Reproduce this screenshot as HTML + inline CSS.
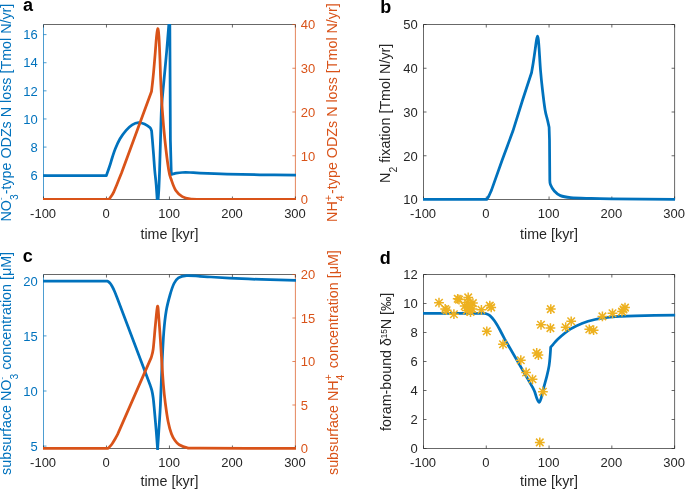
<!DOCTYPE html><html><head><meta charset="utf-8"><style>html,body{margin:0;padding:0;background:#fff;}svg{display:block;will-change:transform;}</style></head><body>
<svg width="685" height="489" viewBox="0 0 685 489" font-family="Liberation Sans, sans-serif">
<rect width="685" height="489" fill="#fff"/>
<defs><clipPath id="ca"><rect x="43.0" y="24.0" width="252.89999999999998" height="176.0"/></clipPath><clipPath id="cb"><rect x="423.0" y="24.0" width="252.10000000000002" height="177.0"/></clipPath><clipPath id="cc"><rect x="43.0" y="274.0" width="252.89999999999998" height="176.0"/></clipPath><clipPath id="cd"><rect x="423.0" y="274.0" width="252.10000000000002" height="175.3"/></clipPath></defs>
<line x1="43.50" y1="24.50" x2="295.40" y2="24.50" stroke="#262626" stroke-width="0.7"/>
<line x1="43.50" y1="199.50" x2="295.40" y2="199.50" stroke="#262626" stroke-width="0.7"/>
<line x1="43.50" y1="24.50" x2="43.50" y2="199.50" stroke="#0072BD" stroke-width="0.7"/>
<line x1="295.40" y1="24.50" x2="295.40" y2="199.50" stroke="#D95319" stroke-width="0.7"/>
<line x1="43.50" y1="199.50" x2="43.50" y2="196.50" stroke="#262626" stroke-width="0.7"/>
<line x1="43.50" y1="24.50" x2="43.50" y2="27.50" stroke="#262626" stroke-width="0.7"/>
<line x1="106.47" y1="199.50" x2="106.47" y2="196.50" stroke="#262626" stroke-width="0.7"/>
<line x1="106.47" y1="24.50" x2="106.47" y2="27.50" stroke="#262626" stroke-width="0.7"/>
<line x1="169.45" y1="199.50" x2="169.45" y2="196.50" stroke="#262626" stroke-width="0.7"/>
<line x1="169.45" y1="24.50" x2="169.45" y2="27.50" stroke="#262626" stroke-width="0.7"/>
<line x1="232.42" y1="199.50" x2="232.42" y2="196.50" stroke="#262626" stroke-width="0.7"/>
<line x1="232.42" y1="24.50" x2="232.42" y2="27.50" stroke="#262626" stroke-width="0.7"/>
<line x1="295.40" y1="199.50" x2="295.40" y2="196.50" stroke="#262626" stroke-width="0.7"/>
<line x1="295.40" y1="24.50" x2="295.40" y2="27.50" stroke="#262626" stroke-width="0.7"/>
<line x1="43.50" y1="175.20" x2="46.50" y2="175.20" stroke="#0072BD" stroke-width="0.7"/>
<line x1="43.50" y1="147.08" x2="46.50" y2="147.08" stroke="#0072BD" stroke-width="0.7"/>
<line x1="43.50" y1="118.96" x2="46.50" y2="118.96" stroke="#0072BD" stroke-width="0.7"/>
<line x1="43.50" y1="90.84" x2="46.50" y2="90.84" stroke="#0072BD" stroke-width="0.7"/>
<line x1="43.50" y1="62.72" x2="46.50" y2="62.72" stroke="#0072BD" stroke-width="0.7"/>
<line x1="43.50" y1="34.60" x2="46.50" y2="34.60" stroke="#0072BD" stroke-width="0.7"/>
<line x1="295.40" y1="199.50" x2="292.40" y2="199.50" stroke="#D95319" stroke-width="0.7"/>
<line x1="295.40" y1="155.75" x2="292.40" y2="155.75" stroke="#D95319" stroke-width="0.7"/>
<line x1="295.40" y1="112.00" x2="292.40" y2="112.00" stroke="#D95319" stroke-width="0.7"/>
<line x1="295.40" y1="68.25" x2="292.40" y2="68.25" stroke="#D95319" stroke-width="0.7"/>
<line x1="295.40" y1="24.50" x2="292.40" y2="24.50" stroke="#D95319" stroke-width="0.7"/>
<line x1="423.50" y1="24.50" x2="674.60" y2="24.50" stroke="#262626" stroke-width="0.7"/>
<line x1="423.50" y1="199.50" x2="674.60" y2="199.50" stroke="#262626" stroke-width="0.7"/>
<line x1="423.50" y1="24.50" x2="423.50" y2="199.50" stroke="#262626" stroke-width="0.7"/>
<line x1="674.60" y1="24.50" x2="674.60" y2="199.50" stroke="#262626" stroke-width="0.7"/>
<line x1="423.50" y1="199.50" x2="423.50" y2="196.50" stroke="#262626" stroke-width="0.7"/>
<line x1="423.50" y1="24.50" x2="423.50" y2="27.50" stroke="#262626" stroke-width="0.7"/>
<line x1="486.27" y1="199.50" x2="486.27" y2="196.50" stroke="#262626" stroke-width="0.7"/>
<line x1="486.27" y1="24.50" x2="486.27" y2="27.50" stroke="#262626" stroke-width="0.7"/>
<line x1="549.05" y1="199.50" x2="549.05" y2="196.50" stroke="#262626" stroke-width="0.7"/>
<line x1="549.05" y1="24.50" x2="549.05" y2="27.50" stroke="#262626" stroke-width="0.7"/>
<line x1="611.83" y1="199.50" x2="611.83" y2="196.50" stroke="#262626" stroke-width="0.7"/>
<line x1="611.83" y1="24.50" x2="611.83" y2="27.50" stroke="#262626" stroke-width="0.7"/>
<line x1="674.60" y1="199.50" x2="674.60" y2="196.50" stroke="#262626" stroke-width="0.7"/>
<line x1="674.60" y1="24.50" x2="674.60" y2="27.50" stroke="#262626" stroke-width="0.7"/>
<line x1="423.50" y1="199.50" x2="426.50" y2="199.50" stroke="#262626" stroke-width="0.7"/>
<line x1="423.50" y1="155.75" x2="426.50" y2="155.75" stroke="#262626" stroke-width="0.7"/>
<line x1="423.50" y1="112.00" x2="426.50" y2="112.00" stroke="#262626" stroke-width="0.7"/>
<line x1="423.50" y1="68.25" x2="426.50" y2="68.25" stroke="#262626" stroke-width="0.7"/>
<line x1="423.50" y1="24.50" x2="426.50" y2="24.50" stroke="#262626" stroke-width="0.7"/>
<line x1="674.60" y1="199.50" x2="671.60" y2="199.50" stroke="#262626" stroke-width="0.7"/>
<line x1="674.60" y1="155.75" x2="671.60" y2="155.75" stroke="#262626" stroke-width="0.7"/>
<line x1="674.60" y1="112.00" x2="671.60" y2="112.00" stroke="#262626" stroke-width="0.7"/>
<line x1="674.60" y1="68.25" x2="671.60" y2="68.25" stroke="#262626" stroke-width="0.7"/>
<line x1="674.60" y1="24.50" x2="671.60" y2="24.50" stroke="#262626" stroke-width="0.7"/>
<line x1="43.50" y1="274.50" x2="295.40" y2="274.50" stroke="#262626" stroke-width="0.7"/>
<line x1="43.50" y1="448.50" x2="295.40" y2="448.50" stroke="#262626" stroke-width="0.7"/>
<line x1="43.50" y1="274.50" x2="43.50" y2="448.50" stroke="#0072BD" stroke-width="0.7"/>
<line x1="295.40" y1="274.50" x2="295.40" y2="448.50" stroke="#D95319" stroke-width="0.7"/>
<line x1="43.50" y1="448.50" x2="43.50" y2="445.50" stroke="#262626" stroke-width="0.7"/>
<line x1="43.50" y1="274.50" x2="43.50" y2="277.50" stroke="#262626" stroke-width="0.7"/>
<line x1="106.47" y1="448.50" x2="106.47" y2="445.50" stroke="#262626" stroke-width="0.7"/>
<line x1="106.47" y1="274.50" x2="106.47" y2="277.50" stroke="#262626" stroke-width="0.7"/>
<line x1="169.45" y1="448.50" x2="169.45" y2="445.50" stroke="#262626" stroke-width="0.7"/>
<line x1="169.45" y1="274.50" x2="169.45" y2="277.50" stroke="#262626" stroke-width="0.7"/>
<line x1="232.42" y1="448.50" x2="232.42" y2="445.50" stroke="#262626" stroke-width="0.7"/>
<line x1="232.42" y1="274.50" x2="232.42" y2="277.50" stroke="#262626" stroke-width="0.7"/>
<line x1="295.40" y1="448.50" x2="295.40" y2="445.50" stroke="#262626" stroke-width="0.7"/>
<line x1="295.40" y1="274.50" x2="295.40" y2="277.50" stroke="#262626" stroke-width="0.7"/>
<line x1="43.50" y1="446.10" x2="46.50" y2="446.10" stroke="#0072BD" stroke-width="0.7"/>
<line x1="43.50" y1="391.00" x2="46.50" y2="391.00" stroke="#0072BD" stroke-width="0.7"/>
<line x1="43.50" y1="335.90" x2="46.50" y2="335.90" stroke="#0072BD" stroke-width="0.7"/>
<line x1="43.50" y1="280.80" x2="46.50" y2="280.80" stroke="#0072BD" stroke-width="0.7"/>
<line x1="295.40" y1="448.50" x2="292.40" y2="448.50" stroke="#D95319" stroke-width="0.7"/>
<line x1="295.40" y1="405.00" x2="292.40" y2="405.00" stroke="#D95319" stroke-width="0.7"/>
<line x1="295.40" y1="361.50" x2="292.40" y2="361.50" stroke="#D95319" stroke-width="0.7"/>
<line x1="295.40" y1="318.00" x2="292.40" y2="318.00" stroke="#D95319" stroke-width="0.7"/>
<line x1="295.40" y1="274.50" x2="292.40" y2="274.50" stroke="#D95319" stroke-width="0.7"/>
<line x1="423.50" y1="274.50" x2="674.60" y2="274.50" stroke="#262626" stroke-width="0.7"/>
<line x1="423.50" y1="448.50" x2="674.60" y2="448.50" stroke="#262626" stroke-width="0.7"/>
<line x1="423.50" y1="274.50" x2="423.50" y2="448.50" stroke="#262626" stroke-width="0.7"/>
<line x1="674.60" y1="274.50" x2="674.60" y2="448.50" stroke="#262626" stroke-width="0.7"/>
<line x1="423.50" y1="448.50" x2="423.50" y2="445.50" stroke="#262626" stroke-width="0.7"/>
<line x1="423.50" y1="274.50" x2="423.50" y2="277.50" stroke="#262626" stroke-width="0.7"/>
<line x1="486.27" y1="448.50" x2="486.27" y2="445.50" stroke="#262626" stroke-width="0.7"/>
<line x1="486.27" y1="274.50" x2="486.27" y2="277.50" stroke="#262626" stroke-width="0.7"/>
<line x1="549.05" y1="448.50" x2="549.05" y2="445.50" stroke="#262626" stroke-width="0.7"/>
<line x1="549.05" y1="274.50" x2="549.05" y2="277.50" stroke="#262626" stroke-width="0.7"/>
<line x1="611.83" y1="448.50" x2="611.83" y2="445.50" stroke="#262626" stroke-width="0.7"/>
<line x1="611.83" y1="274.50" x2="611.83" y2="277.50" stroke="#262626" stroke-width="0.7"/>
<line x1="674.60" y1="448.50" x2="674.60" y2="445.50" stroke="#262626" stroke-width="0.7"/>
<line x1="674.60" y1="274.50" x2="674.60" y2="277.50" stroke="#262626" stroke-width="0.7"/>
<line x1="423.50" y1="448.50" x2="426.50" y2="448.50" stroke="#262626" stroke-width="0.7"/>
<line x1="423.50" y1="419.50" x2="426.50" y2="419.50" stroke="#262626" stroke-width="0.7"/>
<line x1="423.50" y1="390.50" x2="426.50" y2="390.50" stroke="#262626" stroke-width="0.7"/>
<line x1="423.50" y1="361.50" x2="426.50" y2="361.50" stroke="#262626" stroke-width="0.7"/>
<line x1="423.50" y1="332.50" x2="426.50" y2="332.50" stroke="#262626" stroke-width="0.7"/>
<line x1="423.50" y1="303.50" x2="426.50" y2="303.50" stroke="#262626" stroke-width="0.7"/>
<line x1="423.50" y1="274.50" x2="426.50" y2="274.50" stroke="#262626" stroke-width="0.7"/>
<line x1="674.60" y1="448.50" x2="671.60" y2="448.50" stroke="#262626" stroke-width="0.7"/>
<line x1="674.60" y1="419.50" x2="671.60" y2="419.50" stroke="#262626" stroke-width="0.7"/>
<line x1="674.60" y1="390.50" x2="671.60" y2="390.50" stroke="#262626" stroke-width="0.7"/>
<line x1="674.60" y1="361.50" x2="671.60" y2="361.50" stroke="#262626" stroke-width="0.7"/>
<line x1="674.60" y1="332.50" x2="671.60" y2="332.50" stroke="#262626" stroke-width="0.7"/>
<line x1="674.60" y1="303.50" x2="671.60" y2="303.50" stroke="#262626" stroke-width="0.7"/>
<line x1="674.60" y1="274.50" x2="671.60" y2="274.50" stroke="#262626" stroke-width="0.7"/>
<path d="M42.50,175.50 L106.40,175.50 C106.93,173.97 108.62,169.30 109.60,166.30 C110.58,163.30 111.35,160.42 112.30,157.50 C113.25,154.58 114.02,151.92 115.30,148.80 C116.58,145.68 118.20,141.88 120.00,138.80 C121.80,135.72 124.07,132.63 126.10,130.30 C128.13,127.97 130.15,126.08 132.20,124.80 C134.25,123.52 136.35,122.73 138.40,122.60 C140.45,122.47 142.58,123.17 144.50,124.00 C146.42,124.83 148.72,126.47 149.90,127.60 C151.08,128.73 151.32,130.27 151.60,130.80 C151.73,132.33 152.07,135.97 152.40,140.00 C152.73,144.03 153.22,150.00 153.60,155.00 C153.98,160.00 154.27,165.00 154.70,170.00 C155.13,175.00 155.72,179.00 156.20,185.00 C156.68,191.00 157.37,202.50 157.60,206.00 C157.80,203.33 158.47,196.00 158.80,190.00 C159.13,184.00 159.32,178.33 159.60,170.00 C159.88,161.67 160.20,150.00 160.50,140.00 C160.80,130.00 161.05,117.50 161.40,110.00 C161.75,102.50 162.17,100.00 162.60,95.00 C163.03,90.00 163.33,87.17 164.00,80.00 C164.67,72.83 165.73,62.00 166.60,52.00 C167.47,42.00 168.77,25.33 169.20,20.00 L169.80,20.00 L170.40,140.00 L171.30,174.50 C171.58,174.42 172.17,174.22 173.00,174.00 C173.83,173.78 174.78,173.45 176.30,173.20 C177.82,172.95 179.82,172.62 182.10,172.50 C184.38,172.38 187.02,172.40 190.00,172.50 C192.98,172.60 193.83,172.83 200.00,173.10 C206.17,173.37 217.00,173.82 227.00,174.10 C237.00,174.38 248.50,174.62 260.00,174.80 C271.50,174.98 290.00,175.13 296.00,175.20" fill="none" stroke="#0072BD" stroke-width="2.75" stroke-linejoin="round" clip-path="url(#ca)"/>
<path d="M42.50,199.40 L109.00,199.40 C109.37,198.88 110.48,197.38 111.20,196.30 C111.92,195.22 112.37,194.83 113.30,192.90 C114.23,190.97 115.43,188.02 116.80,184.70 C118.17,181.38 120.72,174.95 121.50,173.00 L151.50,91.50 C151.68,89.92 152.25,85.25 152.60,82.00 C152.95,78.75 153.15,77.00 153.60,72.00 C154.05,67.00 154.82,57.83 155.30,52.00 C155.78,46.17 156.10,40.90 156.50,37.00 C156.90,33.10 157.30,28.77 157.70,28.60 C158.10,28.43 158.52,30.77 158.90,36.00 C159.28,41.23 159.70,52.67 160.00,60.00 C160.30,67.33 160.32,71.67 160.70,80.00 C161.08,88.33 161.60,100.00 162.30,110.00 C163.00,120.00 163.83,130.00 164.90,140.00 C165.97,150.00 167.62,163.33 168.70,170.00 C169.78,176.67 170.22,176.58 171.40,180.00 C172.58,183.42 173.98,187.73 175.80,190.50 C177.62,193.27 179.93,195.20 182.30,196.60 C184.67,198.00 186.22,198.45 190.00,198.90 C193.78,199.35 187.33,199.22 205.00,199.30 C222.67,199.38 280.83,199.38 296.00,199.40" fill="none" stroke="#D95319" stroke-width="2.75" stroke-linejoin="round" clip-path="url(#ca)"/>
<path d="M422.50,199.40 L486.70,199.40 C487.02,198.92 487.80,198.05 488.60,196.50 C489.40,194.95 491.02,191.17 491.50,190.10 L502.20,160.00 L512.90,131.10 L522.60,100.00 L531.60,72.50 C531.87,70.92 532.62,66.75 533.20,63.00 C533.78,59.25 534.55,53.83 535.10,50.00 C535.65,46.17 536.10,42.30 536.50,40.00 C536.90,37.70 537.18,36.20 537.50,36.20 C537.82,36.20 538.12,37.70 538.40,40.00 C538.68,42.30 538.85,45.00 539.20,50.00 C539.55,55.00 539.95,63.33 540.50,70.00 C541.05,76.67 541.73,83.33 542.50,90.00 C543.27,96.67 544.30,105.13 545.10,110.00 C545.90,114.87 546.63,116.33 547.30,119.20 C547.97,122.07 548.80,125.87 549.10,127.20 L549.50,140.00 L549.80,180.00 C549.90,180.75 549.65,182.67 550.40,184.50 C551.15,186.33 552.63,189.15 554.30,191.00 C555.97,192.85 557.67,194.50 560.40,195.60 C563.13,196.70 565.77,197.13 570.70,197.60 C575.63,198.07 583.18,198.20 590.00,198.40 C596.82,198.60 597.27,198.63 611.60,198.80 C625.93,198.97 665.27,199.30 676.00,199.40" fill="none" stroke="#0072BD" stroke-width="2.75" stroke-linejoin="round" clip-path="url(#cb)"/>
<path d="M42.50,281.00 L107.50,281.00 C107.92,281.37 109.22,282.28 110.00,283.20 C110.78,284.12 111.45,285.17 112.20,286.50 C112.95,287.83 113.67,289.30 114.50,291.20 C115.33,293.10 116.75,296.78 117.20,297.90 L150.30,385.60 C150.57,386.43 151.42,388.53 151.90,390.60 C152.38,392.67 152.78,394.77 153.20,398.00 C153.62,401.23 153.88,404.33 154.40,410.00 C154.92,415.67 155.77,425.42 156.30,432.00 C156.83,438.58 157.38,446.58 157.60,449.50 C157.87,445.42 158.73,432.42 159.20,425.00 C159.67,417.58 159.93,415.00 160.40,405.00 C160.87,395.00 161.43,377.17 162.00,365.00 C162.57,352.83 163.10,341.00 163.80,332.00 C164.50,323.00 165.17,317.17 166.20,311.00 C167.23,304.83 168.70,299.58 170.00,295.00 C171.30,290.42 172.60,286.37 174.00,283.50 C175.40,280.63 176.30,279.12 178.40,277.80 C180.50,276.48 183.00,275.85 186.60,275.60 C190.20,275.35 195.93,276.07 200.00,276.30 C204.07,276.53 204.03,276.60 211.00,277.00 C217.97,277.40 231.97,278.25 241.80,278.70 C251.63,279.15 260.97,279.43 270.00,279.70 C279.03,279.97 291.67,280.20 296.00,280.30" fill="none" stroke="#0072BD" stroke-width="2.75" stroke-linejoin="round" clip-path="url(#cc)"/>
<path d="M42.50,448.30 L108.10,448.30 C108.45,447.95 109.47,447.05 110.20,446.20 C110.93,445.35 111.62,444.52 112.50,443.20 C113.38,441.88 114.65,439.77 115.50,438.30 C116.35,436.83 117.25,435.05 117.60,434.40 L151.20,357.60 C151.53,356.17 152.50,354.43 153.20,349.00 C153.90,343.57 154.68,332.12 155.40,325.00 C156.12,317.88 156.93,307.55 157.50,306.30 C158.07,305.05 158.32,311.88 158.80,317.50 C159.28,323.12 159.90,332.58 160.40,340.00 C160.90,347.42 161.30,354.50 161.80,362.00 C162.30,369.50 162.82,378.17 163.40,385.00 C163.98,391.83 164.50,396.83 165.30,403.00 C166.10,409.17 167.17,416.83 168.20,422.00 C169.23,427.17 170.37,430.92 171.50,434.00 C172.63,437.08 173.72,438.70 175.00,440.50 C176.28,442.30 177.12,443.58 179.20,444.80 C181.28,446.02 184.03,447.23 187.50,447.80 C190.97,448.37 181.92,448.12 200.00,448.20 C218.08,448.28 280.00,448.28 296.00,448.30" fill="none" stroke="#D95319" stroke-width="2.75" stroke-linejoin="round" clip-path="url(#cc)"/>
<path d="M422.50,313.40 L485.20,313.40 C485.98,313.77 488.30,314.28 489.90,315.60 C491.50,316.92 493.17,318.98 494.80,321.30 C496.43,323.62 498.07,326.55 499.70,329.50 C501.33,332.45 503.78,337.42 504.60,339.00 L532.20,386.60 C532.60,387.43 533.82,389.62 534.60,391.60 C535.38,393.58 536.13,396.70 536.90,398.50 C537.67,400.30 538.48,402.48 539.20,402.40 C539.92,402.32 540.57,400.05 541.20,398.00 C541.83,395.95 542.07,393.72 543.00,390.10 C543.93,386.48 545.78,380.38 546.80,376.30 C547.82,372.22 548.53,369.17 549.10,365.60 C549.67,362.03 549.93,357.97 550.20,354.90 C550.47,351.83 550.62,348.48 550.70,347.20 C551.08,346.77 551.78,345.97 553.00,344.60 C554.22,343.23 555.12,341.57 558.00,339.00 C560.88,336.43 566.22,331.83 570.30,329.20 C574.38,326.57 578.38,324.82 582.50,323.20 C586.62,321.58 590.83,320.47 595.00,319.50 C599.17,318.53 603.33,317.92 607.50,317.40 C611.67,316.88 615.42,316.67 620.00,316.40 C624.58,316.13 625.67,316.02 635.00,315.80 C644.33,315.58 669.17,315.22 676.00,315.10" fill="none" stroke="#0072BD" stroke-width="2.75" stroke-linejoin="round" clip-path="url(#cd)"/>
<path d="M434.10,302.70H443.90M439.00,297.80V307.60M435.25,298.95L442.75,306.45M435.25,306.45L442.75,298.95" stroke="#EDB120" stroke-width="1.5" fill="none"/>
<path d="M440.30,309.00H450.10M445.20,304.10V313.90M441.45,305.25L448.95,312.75M441.45,312.75L448.95,305.25" stroke="#EDB120" stroke-width="1.5" fill="none"/>
<path d="M441.70,310.20H451.50M446.60,305.30V315.10M442.85,306.45L450.35,313.95M442.85,313.95L450.35,306.45" stroke="#EDB120" stroke-width="1.5" fill="none"/>
<path d="M449.00,314.20H458.80M453.90,309.30V319.10M450.15,310.45L457.65,317.95M450.15,317.95L457.65,310.45" stroke="#EDB120" stroke-width="1.5" fill="none"/>
<path d="M452.80,298.80H462.60M457.70,293.90V303.70M453.95,295.05L461.45,302.55M453.95,302.55L461.45,295.05" stroke="#EDB120" stroke-width="1.5" fill="none"/>
<path d="M463.30,297.40H473.10M468.20,292.50V302.30M464.45,293.65L471.95,301.15M464.45,301.15L471.95,293.65" stroke="#EDB120" stroke-width="1.5" fill="none"/>
<path d="M468.00,303.10H477.80M472.90,298.20V308.00M469.15,299.35L476.65,306.85M469.15,306.85L476.65,299.35" stroke="#EDB120" stroke-width="1.5" fill="none"/>
<path d="M459.80,306.10H469.60M464.70,301.20V311.00M460.95,302.35L468.45,309.85M460.95,309.85L468.45,302.35" stroke="#EDB120" stroke-width="1.5" fill="none"/>
<path d="M465.60,312.00H475.40M470.50,307.10V316.90M466.75,308.25L474.25,315.75M466.75,315.75L474.25,308.25" stroke="#EDB120" stroke-width="1.5" fill="none"/>
<path d="M462.60,302.50H472.40M467.50,297.60V307.40M463.75,298.75L471.25,306.25M463.75,306.25L471.25,298.75" stroke="#EDB120" stroke-width="1.5" fill="none"/>
<path d="M463.60,308.00H473.40M468.50,303.10V312.90M464.75,304.25L472.25,311.75M464.75,311.75L472.25,304.25" stroke="#EDB120" stroke-width="1.5" fill="none"/>
<path d="M467.60,309.00H477.40M472.50,304.10V313.90M468.75,305.25L476.25,312.75M468.75,312.75L476.25,305.25" stroke="#EDB120" stroke-width="1.5" fill="none"/>
<path d="M454.10,299.60H463.90M459.00,294.70V304.50M455.25,295.85L462.75,303.35M455.25,303.35L462.75,295.85" stroke="#EDB120" stroke-width="1.5" fill="none"/>
<path d="M465.30,305.50H475.10M470.20,300.60V310.40M466.45,301.75L473.95,309.25M466.45,309.25L473.95,301.75" stroke="#EDB120" stroke-width="1.5" fill="none"/>
<path d="M461.90,310.50H471.70M466.80,305.60V315.40M463.05,306.75L470.55,314.25M463.05,314.25L470.55,306.75" stroke="#EDB120" stroke-width="1.5" fill="none"/>
<path d="M476.50,309.80H486.30M481.40,304.90V314.70M477.65,306.05L485.15,313.55M477.65,313.55L485.15,306.05" stroke="#EDB120" stroke-width="1.5" fill="none"/>
<path d="M484.90,305.60H494.70M489.80,300.70V310.50M486.05,301.85L493.55,309.35M486.05,309.35L493.55,301.85" stroke="#EDB120" stroke-width="1.5" fill="none"/>
<path d="M486.30,307.40H496.10M491.20,302.50V312.30M487.45,303.65L494.95,311.15M487.45,311.15L494.95,303.65" stroke="#EDB120" stroke-width="1.5" fill="none"/>
<path d="M481.90,331.30H491.70M486.80,326.40V336.20M483.05,327.55L490.55,335.05M483.05,335.05L490.55,327.55" stroke="#EDB120" stroke-width="1.5" fill="none"/>
<path d="M498.10,344.30H507.90M503.00,339.40V349.20M499.25,340.55L506.75,348.05M499.25,348.05L506.75,340.55" stroke="#EDB120" stroke-width="1.5" fill="none"/>
<path d="M515.90,360.20H525.70M520.80,355.30V365.10M517.05,356.45L524.55,363.95M517.05,363.95L524.55,356.45" stroke="#EDB120" stroke-width="1.5" fill="none"/>
<path d="M521.20,372.50H531.00M526.10,367.60V377.40M522.35,368.75L529.85,376.25M522.35,376.25L529.85,368.75" stroke="#EDB120" stroke-width="1.5" fill="none"/>
<path d="M527.60,379.30H537.40M532.50,374.40V384.20M528.75,375.55L536.25,383.05M528.75,383.05L536.25,375.55" stroke="#EDB120" stroke-width="1.5" fill="none"/>
<path d="M531.80,352.90H541.60M536.70,348.00V357.80M532.95,349.15L540.45,356.65M532.95,356.65L540.45,349.15" stroke="#EDB120" stroke-width="1.5" fill="none"/>
<path d="M533.50,355.10H543.30M538.40,350.20V360.00M534.65,351.35L542.15,358.85M534.65,358.85L542.15,351.35" stroke="#EDB120" stroke-width="1.5" fill="none"/>
<path d="M538.00,391.70H547.80M542.90,386.80V396.60M539.15,387.95L546.65,395.45M539.15,395.45L546.65,387.95" stroke="#EDB120" stroke-width="1.5" fill="none"/>
<path d="M534.90,442.40H544.70M539.80,437.50V447.30M536.05,438.65L543.55,446.15M536.05,446.15L543.55,438.65" stroke="#EDB120" stroke-width="1.5" fill="none"/>
<path d="M545.90,309.10H555.70M550.80,304.20V314.00M547.05,305.35L554.55,312.85M547.05,312.85L554.55,305.35" stroke="#EDB120" stroke-width="1.5" fill="none"/>
<path d="M536.10,324.80H545.90M541.00,319.90V329.70M537.25,321.05L544.75,328.55M537.25,328.55L544.75,321.05" stroke="#EDB120" stroke-width="1.5" fill="none"/>
<path d="M545.50,328.10H555.30M550.40,323.20V333.00M546.65,324.35L554.15,331.85M546.65,331.85L554.15,324.35" stroke="#EDB120" stroke-width="1.5" fill="none"/>
<path d="M560.80,327.20H570.60M565.70,322.30V332.10M561.95,323.45L569.45,330.95M561.95,330.95L569.45,323.45" stroke="#EDB120" stroke-width="1.5" fill="none"/>
<path d="M566.30,321.30H576.10M571.20,316.40V326.20M567.45,317.55L574.95,325.05M567.45,325.05L574.95,317.55" stroke="#EDB120" stroke-width="1.5" fill="none"/>
<path d="M584.40,329.30H594.20M589.30,324.40V334.20M585.55,325.55L593.05,333.05M585.55,333.05L593.05,325.55" stroke="#EDB120" stroke-width="1.5" fill="none"/>
<path d="M588.70,330.20H598.50M593.60,325.30V335.10M589.85,326.45L597.35,333.95M589.85,333.95L597.35,326.45" stroke="#EDB120" stroke-width="1.5" fill="none"/>
<path d="M597.50,316.40H607.30M602.40,311.50V321.30M598.65,312.65L606.15,320.15M598.65,320.15L606.15,312.65" stroke="#EDB120" stroke-width="1.5" fill="none"/>
<path d="M607.60,313.30H617.40M612.50,308.40V318.20M608.75,309.55L616.25,317.05M608.75,317.05L616.25,309.55" stroke="#EDB120" stroke-width="1.5" fill="none"/>
<path d="M617.10,311.60H626.90M622.00,306.70V316.50M618.25,307.85L625.75,315.35M618.25,315.35L625.75,307.85" stroke="#EDB120" stroke-width="1.5" fill="none"/>
<path d="M618.60,309.50H628.40M623.50,304.60V314.40M619.75,305.75L627.25,313.25M619.75,313.25L627.25,305.75" stroke="#EDB120" stroke-width="1.5" fill="none"/>
<path d="M620.10,307.60H629.90M625.00,302.70V312.50M621.25,303.85L628.75,311.35M621.25,311.35L628.75,303.85" stroke="#EDB120" stroke-width="1.5" fill="none"/>
<text x="43.10" y="217.50" font-size="13.0" fill="#262626" text-anchor="middle">-100</text>
<text x="106.07" y="217.50" font-size="13.0" fill="#262626" text-anchor="middle">0</text>
<text x="169.05" y="217.50" font-size="13.0" fill="#262626" text-anchor="middle">100</text>
<text x="232.02" y="217.50" font-size="13.0" fill="#262626" text-anchor="middle">200</text>
<text x="295.00" y="217.50" font-size="13.0" fill="#262626" text-anchor="middle">300</text>
<text x="37.70" y="179.95" font-size="13.0" fill="#0072BD" text-anchor="end">6</text>
<text x="37.70" y="151.83" font-size="13.0" fill="#0072BD" text-anchor="end">8</text>
<text x="37.70" y="123.71" font-size="13.0" fill="#0072BD" text-anchor="end">10</text>
<text x="37.70" y="95.59" font-size="13.0" fill="#0072BD" text-anchor="end">12</text>
<text x="37.70" y="67.47" font-size="13.0" fill="#0072BD" text-anchor="end">14</text>
<text x="37.70" y="39.35" font-size="13.0" fill="#0072BD" text-anchor="end">16</text>
<text x="300.70" y="204.25" font-size="13.0" fill="#D95319" text-anchor="start">0</text>
<text x="300.70" y="160.50" font-size="13.0" fill="#D95319" text-anchor="start">10</text>
<text x="300.70" y="116.75" font-size="13.0" fill="#D95319" text-anchor="start">20</text>
<text x="300.70" y="73.00" font-size="13.0" fill="#D95319" text-anchor="start">30</text>
<text x="300.70" y="29.25" font-size="13.0" fill="#D95319" text-anchor="start">40</text>
<text x="169.45" y="239.00" font-size="14.3" fill="#262626" text-anchor="middle">time [kyr]</text>
<text x="23.00" y="11.20" font-size="18" fill="#000" text-anchor="start" font-weight="bold">a</text>
<text x="423.10" y="217.50" font-size="13.0" fill="#262626" text-anchor="middle">-100</text>
<text x="485.88" y="217.50" font-size="13.0" fill="#262626" text-anchor="middle">0</text>
<text x="548.65" y="217.50" font-size="13.0" fill="#262626" text-anchor="middle">100</text>
<text x="611.43" y="217.50" font-size="13.0" fill="#262626" text-anchor="middle">200</text>
<text x="674.20" y="217.50" font-size="13.0" fill="#262626" text-anchor="middle">300</text>
<text x="417.70" y="204.25" font-size="13.0" fill="#262626" text-anchor="end">10</text>
<text x="417.70" y="160.50" font-size="13.0" fill="#262626" text-anchor="end">20</text>
<text x="417.70" y="116.75" font-size="13.0" fill="#262626" text-anchor="end">30</text>
<text x="417.70" y="73.00" font-size="13.0" fill="#262626" text-anchor="end">40</text>
<text x="417.70" y="29.25" font-size="13.0" fill="#262626" text-anchor="end">50</text>
<text x="549.05" y="239.00" font-size="14.3" fill="#262626" text-anchor="middle">time [kyr]</text>
<text x="380.30" y="13.00" font-size="18" fill="#000" text-anchor="start" font-weight="bold">b</text>
<text x="43.10" y="466.50" font-size="13.0" fill="#262626" text-anchor="middle">-100</text>
<text x="106.07" y="466.50" font-size="13.0" fill="#262626" text-anchor="middle">0</text>
<text x="169.05" y="466.50" font-size="13.0" fill="#262626" text-anchor="middle">100</text>
<text x="232.02" y="466.50" font-size="13.0" fill="#262626" text-anchor="middle">200</text>
<text x="295.00" y="466.50" font-size="13.0" fill="#262626" text-anchor="middle">300</text>
<text x="37.70" y="450.85" font-size="13.0" fill="#0072BD" text-anchor="end">5</text>
<text x="37.70" y="395.75" font-size="13.0" fill="#0072BD" text-anchor="end">10</text>
<text x="37.70" y="340.65" font-size="13.0" fill="#0072BD" text-anchor="end">15</text>
<text x="37.70" y="285.55" font-size="13.0" fill="#0072BD" text-anchor="end">20</text>
<text x="300.70" y="453.25" font-size="13.0" fill="#D95319" text-anchor="start">0</text>
<text x="300.70" y="409.75" font-size="13.0" fill="#D95319" text-anchor="start">5</text>
<text x="300.70" y="366.25" font-size="13.0" fill="#D95319" text-anchor="start">10</text>
<text x="300.70" y="322.75" font-size="13.0" fill="#D95319" text-anchor="start">15</text>
<text x="300.70" y="279.25" font-size="13.0" fill="#D95319" text-anchor="start">20</text>
<text x="169.45" y="485.50" font-size="14.3" fill="#262626" text-anchor="middle">time [kyr]</text>
<text x="22.70" y="261.50" font-size="18" fill="#000" text-anchor="start" font-weight="bold">c</text>
<text x="423.10" y="466.50" font-size="13.0" fill="#262626" text-anchor="middle">-100</text>
<text x="485.88" y="466.50" font-size="13.0" fill="#262626" text-anchor="middle">0</text>
<text x="548.65" y="466.50" font-size="13.0" fill="#262626" text-anchor="middle">100</text>
<text x="611.43" y="466.50" font-size="13.0" fill="#262626" text-anchor="middle">200</text>
<text x="674.20" y="466.50" font-size="13.0" fill="#262626" text-anchor="middle">300</text>
<text x="417.70" y="453.25" font-size="13.0" fill="#262626" text-anchor="end">0</text>
<text x="417.70" y="424.25" font-size="13.0" fill="#262626" text-anchor="end">2</text>
<text x="417.70" y="395.25" font-size="13.0" fill="#262626" text-anchor="end">4</text>
<text x="417.70" y="366.25" font-size="13.0" fill="#262626" text-anchor="end">6</text>
<text x="417.70" y="337.25" font-size="13.0" fill="#262626" text-anchor="end">8</text>
<text x="417.70" y="308.25" font-size="13.0" fill="#262626" text-anchor="end">10</text>
<text x="417.70" y="279.25" font-size="13.0" fill="#262626" text-anchor="end">12</text>
<text x="549.05" y="485.50" font-size="14.3" fill="#262626" text-anchor="middle">time [kyr]</text>
<text x="379.80" y="264.00" font-size="18" fill="#000" text-anchor="start" font-weight="bold">d</text>
<text transform="translate(10.60,221.50) rotate(-90)" font-size="14.3" fill="#0072BD">NO<tspan font-size="10.3" dy="7.2">3</tspan><tspan font-size="8.0" dx="-5.73" dy="-14.7">-</tspan><tspan dx="3.06" dy="7.5">-type ODZs N loss [Tmol N/yr]</tspan></text>
<text transform="translate(337.30,221.90) rotate(-90)" font-size="14.3" fill="#D95319">NH<tspan font-size="10.3" dy="6.8">4</tspan><tspan font-size="11.0" dx="-5.73" dy="-12.6">+</tspan><tspan dx="0.90" dy="5.8">-type ODZs N loss [Tmol N/yr]</tspan></text>
<text transform="translate(390.30,182.90) rotate(-90)" font-size="14.3" fill="#262626">N<tspan font-size="10.3" dy="6.6">2</tspan><tspan dy="-6.6"> fixation [Tmol N/yr]</tspan></text>
<text transform="translate(11.00,474.90) rotate(-90)" font-size="14.3" fill="#0072BD">subsurface NO<tspan font-size="10.3" dy="7.2">3</tspan><tspan font-size="8.0" dx="-5.73" dy="-14.7">-</tspan><tspan dx="3.06" dy="7.5"> concentration [μM]</tspan></text>
<text transform="translate(337.50,475.00) rotate(-90)" font-size="14.3" fill="#D95319">subsurface NH<tspan font-size="10.3" dy="6.8">4</tspan><tspan font-size="11.0" dx="-5.73" dy="-12.6">+</tspan><tspan dx="1.90" dy="5.8"> concentration [μM]</tspan></text>
<text transform="translate(391.00,431.00) rotate(-90)" font-size="14.3" fill="#262626">foram-bound δ<tspan font-size="8.5" dy="-4.5" dx="-0.4">15</tspan><tspan dy="4.5" dx="-0.3">N [‰]</tspan></text>
</svg></body></html>
